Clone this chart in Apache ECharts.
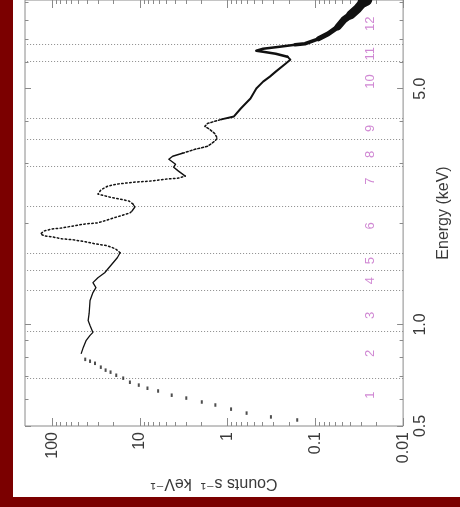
<!DOCTYPE html>
<html>
<head>
<meta charset="utf-8">
<script src="https://cdn.jsdelivr.net/npm/echarts@6/dist/echarts.min.js"></script>
<style>
  html, body { margin: 0; padding: 0; background: #7b0000; width: 460px; height: 507px; overflow: hidden; }
  #panel { position: absolute; left: 13px; top: 0; width: 447px; height: 497px; background: #ffffff; }
  #chart { position: absolute; left: 0; top: 0; width: 460px; height: 507px; }
</style>
</head>
<body>
<div id="panel"></div>
<div id="chart"></div>
<script>
// Spectrum: energy (keV) and counts s^-1 keV^-1
const energy = [
  0.521, 0.532, 0.546, 0.561, 0.577, 0.589, 0.605, 0.617, 0.635, 0.647,
  0.661, 0.674, 0.693, 0.707, 0.722, 0.732, 0.747, 0.767, 0.778, 0.788,
  0.821, 0.855, 0.897, 0.928, 0.947, 0.993, 1.027, 1.078, 1.177, 1.243,
  1.286, 1.330, 1.376, 1.423, 1.493, 1.576, 1.631,
  1.676, 1.710, 1.734, 1.758, 1.781, 1.794, 1.818, 1.830, 1.855, 1.893,
  1.919, 1.932, 1.959, 1.986, 2.000, 2.055, 2.097, 2.140, 2.169, 2.229,
  2.275, 2.322, 2.354, 2.386, 2.418, 2.434, 2.502, 2.570, 2.606, 2.641,
  2.659, 2.696, 2.715, 2.752,
  2.847, 2.925, 2.985, 3.088, 3.151, 3.216,
  3.305, 3.373, 3.490, 3.561, 3.685, 3.786, 3.864, 3.944, 4.053,
  4.136, 4.365, 4.674, 5.003, 5.245, 5.427, 5.615, 5.929, 6.093, 6.218,
  6.346, 6.433, 6.477, 6.566, 6.653, 6.745, 6.791, 7.025, 7.267, 7.621,
  7.993, 8.268, 8.612, 9.030, 9.150
];
const counts = [
  0.161, 0.321, 0.608, 0.914, 1.38, 1.97, 2.96, 4.34, 6.2, 8.2,
  10.3, 13.0, 15.5, 18.6, 21.6, 24.6, 27.9, 32.5, 37.0, 42.0,
  46.6, 44.2, 40.9, 37.0, 34.3, 37.0, 38.9, 37.9, 37.0, 34.3,
  31.7, 34.3, 30.1, 25.2, 21.6, 18.1, 16.8,
  19.0, 23.3, 32.5, 42.0, 57.0, 77.4, 100, 123, 136, 123,
  100, 77.4, 57.0, 42.0, 30.1, 21.6, 16.8, 13.0, 12.3, 11.4,
  12.0, 13.3, 17.2, 22.2, 27.2, 30.1, 27.9, 23.3, 18.1, 11.7,
  7.8, 5.06, 3.63, 3.04,
  3.63, 4.12, 3.92, 4.68, 4.23, 3.27,
  2.35, 1.69, 1.41, 1.31, 1.41, 1.60, 1.82, 1.69, 1.18,
  0.847, 0.708, 0.549, 0.471, 0.394, 0.330, 0.283, 0.219, 0.193, 0.208,
  0.283, 0.394, 0.471, 0.394, 0.255, 0.170, 0.1315, 0.092, 0.0713, 0.0552,
  0.0474, 0.0396, 0.0332, 0.0285, 0.026
];
// vertical guide lines (energies, keV)
const guideEnergies = [0.698, 0.947, 1.26, 1.433, 1.631, 2.259, 2.965, 3.561, 4.108, 6.09, 6.79];
// numbered regions
const regionNames = ['1','2','3','4','5','6','7','8','9','10','11','12'];
const regionEnergies = [0.617, 0.821, 1.063, 1.348, 1.545, 1.959, 2.66, 3.194, 3.81, 5.245, 6.345, 7.78];
// axis ticks
const countMajor = [0.01, 0.1, 1, 10, 100];
const countMinor = [0.02,0.03,0.04,0.05,0.06,0.07,0.08,0.09,
                    0.2,0.3,0.4,0.5,0.6,0.7,0.8,0.9,
                    2,3,4,5,6,7,8,9,
                    20,30,40,50,60,70,80,90];
const countLabels = ['0.01', '0.1', '1', '10', '100'];
const energyMajor = [0.5, 1.0, 5.0];
const energyMinor = [0.6, 0.7, 0.8, 0.9, 2, 3, 4, 6, 7, 8, 9];
const energyLabels = ['0.5', '1.0', '5.0'];

const L = Math.log10;
const C_MIN = 0.01, C_MAX = 204, E_MIN = 0.5, E_MAX = 9.155;

function seg(a, b) {
  const out = [];
  for (let i = a; i <= b; i++) out.push([L(counts[i]), L(energy[i])]);
  return out;
}

const font = 'Liberation Sans, Arial, DejaVu Sans, sans-serif';
const frame = '#8a8a8a';
const textCol = '#3a3a3a';

function xAx(pos, ticks, len, withLabel) {
  const a = {
    type: 'value', position: pos, min: L(C_MIN), max: L(C_MAX), inverse: true,
    axisLine: { show: false, onZero: false }, splitLine: { show: false },
    axisTick: { show: true, inside: true, length: len, customValues: ticks.map(L),
                lineStyle: { color: frame, width: 1 } },
    axisLabel: { show: false }
  };
  if (withLabel) {
    a.axisLabel = {
      show: true, customValues: countMajor.map(L), rotate: 90, margin: 6,
      fontSize: 16, fontFamily: font, color: textCol,
      formatter: v => countLabels[countMajor.findIndex(c => Math.abs(L(c) - v) < 1e-6)]
    };
    a.name = 'Counts s\u207B\u00B9  keV\u207B\u00B9';
    a.nameLocation = 'middle';
    a.nameRotate = 180;
    a.nameGap = 49;
    a.nameTextStyle = { fontSize: 16, fontFamily: font, color: textCol };
  }
  return a;
}
function yAx(pos, ticks, len, withLabel) {
  const a = {
    type: 'value', position: pos, min: L(E_MIN), max: L(E_MAX),
    axisLine: { show: false, onZero: false }, splitLine: { show: false },
    axisTick: { show: true, inside: true, length: len, customValues: ticks.map(L),
                lineStyle: { color: frame, width: 1 } },
    axisLabel: { show: false }
  };
  if (withLabel) {
    a.axisLabel = {
      show: true, customValues: energyMajor.map(L), rotate: 90, margin: 9,
      fontSize: 16, fontFamily: font, color: textCol,
      formatter: v => energyLabels[energyMajor.findIndex(e => Math.abs(L(e) - v) < 1e-6)]
    };
    a.name = 'Energy (keV)';
    a.nameLocation = 'middle';
    a.nameRotate = 90;
    a.nameGap = 30;
    a.nameTextStyle = { fontSize: 16, fontFamily: font, color: textCol };
  }
  return a;
}

function lineSeries(a, b, width, type) {
  return {
    type: 'line', data: seg(a, b), showSymbol: false, symbol: 'none',
    lineStyle: { color: '#111', width: width, type: type || 'solid', cap: 'round', join: 'round' },
    clip: true, silent: true, z: 5
  };
}

const chart = echarts.init(document.getElementById('chart'), null, { renderer: 'canvas' });
chart.setOption({
  animation: false,
  backgroundColor: 'transparent',
  grid: { left: 25, right: 46, top: -2, bottom: 81, show: true, borderColor: frame, borderWidth: 1, backgroundColor: 'transparent' },
  xAxis: [
    xAx('bottom', countMajor, 8, true),
    xAx('bottom', countMinor, 4, false),
    xAx('top', countMajor, 8, false),
    xAx('top', countMinor, 4, false)
  ],
  yAxis: [
    yAx('right', energyMajor, 6, true),
    yAx('right', energyMinor, 3.5, false),
    yAx('left', energyMajor, 6, false),
    yAx('left', energyMinor, 3.5, false)
  ],
  series: [
    {
      type: 'scatter', data: seg(0, 19), symbol: 'rect', symbolSize: [2, 3.5],
      itemStyle: { color: '#222' }, silent: true, z: 5,
      markLine: {
        silent: true, symbol: ['none', 'none'], label: { show: false },
        lineStyle: { color: '#8a8a8a', width: 1, type: [1, 2] },
        data: guideEnergies.map(e => ({ yAxis: L(e) }))
      }
    },
    lineSeries(20, 36, 1.3),
    lineSeries(36, 55, 1.5, [1.5, 2.5]),
    lineSeries(55, 57, 1.3),
    lineSeries(57, 70, 1.5, [1.5, 2.5]),
    lineSeries(70, 76, 1.4),
    lineSeries(76, 85, 1.5, [2, 2]),
    lineSeries(85, 95, 2),
    lineSeries(95, 101, 2.6),
    lineSeries(101, 103, 3.5),
    lineSeries(103, 105, 5),
    lineSeries(105, 107, 7),
    lineSeries(107, 109, 9),
    lineSeries(109, 110, 11),
    {
      type: 'scatter', silent: true, z: 6,
      data: regionNames.map((n, i) => ({ name: n, value: [L(0.0238), L(regionEnergies[i])] })),
      symbolSize: 1, itemStyle: { color: 'rgba(0,0,0,0)' },
      label: { show: true, formatter: '{b}', rotate: 90, position: 'inside',
               color: '#c46ac8', fontSize: 13, fontFamily: font }
    }
  ]
});
</script>
</body>
</html>
